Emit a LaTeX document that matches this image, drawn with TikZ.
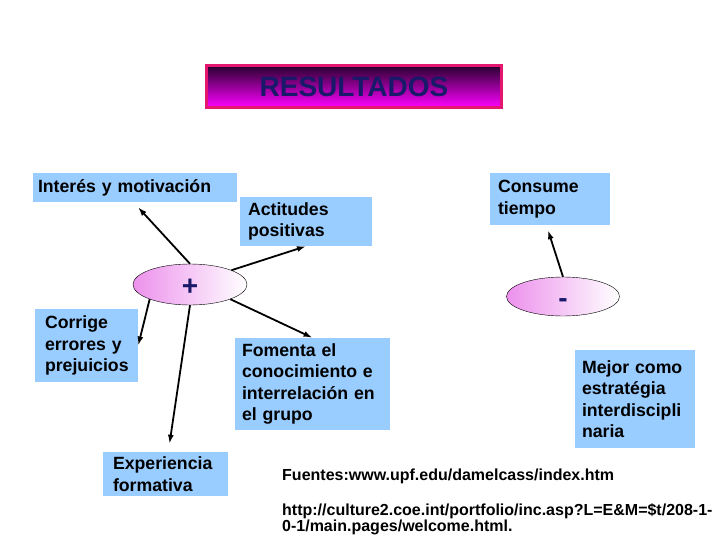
\documentclass[tikz,border=0pt]{standalone}
\usepackage{fontspec}
\setmainfont{Liberation Sans}
\usetikzlibrary{arrows.meta,shapes.geometric}

\definecolor{boxblue}{RGB}{153,204,255}
\definecolor{titleedge}{RGB}{228,22,112}
\definecolor{titletop}{RGB}{40,0,45}
\definecolor{titlemid}{RGB}{200,0,200}
\definecolor{titlemag}{RGB}{255,0,255}
\definecolor{signnavy}{RGB}{25,25,105}
\definecolor{ellpink}{RGB}{236,145,236}

\begin{document}
\begin{tikzpicture}[x=1pt, y=-1pt, >={Latex[length=9pt,width=6pt]},
  box/.style={fill=boxblue, align=left, inner xsep=8pt, inner ysep=0pt,
    font=\bfseries\fontsize{17.7}{21.5}\selectfont},
  sign/.style={ellipse, draw, thin, left color=ellpink, right color=white,
    text=signnavy, font=\bfseries\fontsize{28}{28}\selectfont,
    text height=22pt, text depth=0pt, inner sep=0pt},
  link/.style={->, line width=1.8pt},
  source/.style={font=\bfseries\fontsize{16}{16.5}\selectfont, align=left, inner sep=0pt}]
  \useasboundingbox (0,0) rectangle (720,540);
  \node[draw=titleedge, line width=3pt, top color=titletop, middle color=titlemid,
    bottom color=titlemag, minimum width=295pt, minimum height=42pt, text=signnavy,
    font=\bfseries\fontsize{28}{28}\selectfont] (titulo) at (354,86.5) {RESULTADOS};

  \node[box, text width=194pt, inner xsep=5pt, minimum height=29pt] (interes) at (135,187.5) {Interés y motivación};
  \node[box, text width=116pt, minimum height=49pt] (actitudes) at (306,221.5) {Actitudes\\positivas};
  \node[box, text width=104pt, minimum height=52pt] (consume) at (550,199) {Consume\\tiempo};
  \node[box, text width=83pt, inner xsep=10pt, minimum height=73pt] (corrige) at (86.5,345.5) {Corrige\\errores y\\prejuicios};
  \node[box, text width=141pt, inner xsep=7pt, minimum height=92pt] (fomenta) at (312.5,384) {Fomenta el\\conocimiento e\\interrelación en\\el grupo};
  \node[box, text width=106pt, inner xsep=7pt, minimum height=98pt] (mejor) at (635,399) {\mbox{Mejor como}\\estratégia\\interdiscipli\\naria};
  \node[box, text width=105pt, inner xsep=10pt, minimum height=44pt] (experiencia) at (165.5,474) {Experiencia\\formativa};

  \node[sign, minimum width=114pt, minimum height=41pt] (mas) at (190,284.5) {+};
  \node[sign, minimum width=113pt, minimum height=39pt] (menos) at (563,296.5) {-};

  \draw[link] (mas.north) -- ([shift={(3,5)}]interes.south);
  \draw[link] (mas.19) -- (actitudes.south);
  \draw[link] (mas.-20) -- (fomenta.north);
  \draw[link] (mas.200) -- (corrige.east);
  \draw[link] (mas.south) -- ([shift={(4,-8)}]experiencia.north);
  \draw[link] (menos.north) -- ([shift={(-2,5)}]consume.south);

  \node[source, anchor=base west] (fuentes) at (282,480) {Fuentes:www.upf.edu/damelcass/index.htm};
  \node[source, anchor=north west] (enlace) at (282,503) {http://culture2.coe.int/portfolio/inc.asp?L=E\&M=\$t/208-1-\\0-1/main.pages/welcome.html.};
\end{tikzpicture}
\end{document}
